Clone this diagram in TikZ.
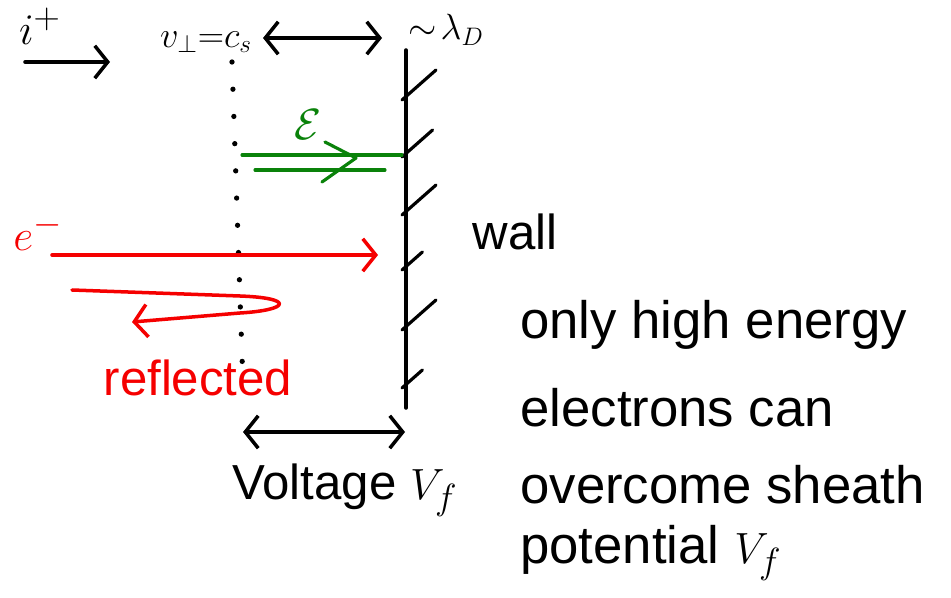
\documentclass[tikz,border=0pt]{standalone}
\usepackage{fontspec}
\setmainfont{Liberation Sans}
\usepackage{xcolor}
\usepackage{tikz}
\usetikzlibrary{arrows.meta, positioning}
\definecolor{inkblack}{RGB}{0, 0, 0}
\definecolor{inkred}{RGB}{245, 0, 0}
\definecolor{inkgreen}{RGB}{10, 130, 10}

\begin{document}
\begin{tikzpicture}[
    x=0.02cm, y=-0.02cm,
    ink/.style={line width=2pt, line cap=round, line join=round, color=inkblack},
    flow/.style={ink, -{Straight Barb[length=2.6mm, width=6.5mm]}},
    span/.style={ink, {Straight Barb[length=2.6mm, width=6.5mm]}-{Straight Barb[length=2.6mm, width=6.5mm]}},
    hatch/.style={line width=1.8pt, line cap=round},
    handtext/.style={font=\fontsize{28}{32}\selectfont, inner sep=0pt},
    smalltext/.style={font=\fontsize{22}{26}\selectfont, inner sep=0pt},
    notetext/.style={font=\fontsize{30}{34}\selectfont, inner sep=0pt, anchor=west}
]
    \useasboundingbox (0,0) rectangle (951,598);

    % wall with hatching
    \coordinate (walltop) at (406,50);
    \coordinate (wallbot) at (406,408);
    \draw [ink] (walltop) -- (wallbot);
    \foreach \y/\len in {100/1, 157/0.9, 215/1, 270/0.6, 330/1, 388/0.6}
        \draw [hatch] (402,\y) -- ++(34*\len,-30*\len);
    \node [handtext] (wall) at (515,232) {wall};

    % sheath edge
    \coordinate (edgetop) at (232,62);
    \coordinate (edgebot) at (243,385);
    \draw [line width=3pt, line cap=round, dash pattern=on 0pt off 15.5pt] (edgetop) -- (edgebot);

    % top labels
    \node [handtext] (ion)   at (40,26)  {$i^+$};
    \coordinate (ionstart) at (25,62);
    \coordinate (ionend)   at (110,62);
    \draw [flow] (ionstart) -- (ionend);
    \node [smalltext] (bohm)  at (206,42) {$v_\perp{=}c_s$};
    \node [smalltext] (debye) at (446,30) {$\sim\!\lambda_D$};
    \coordinate (sheathA) at (263,38);
    \coordinate (sheathB) at (382,38);
    \draw [span] (sheathA) -- (sheathB);

    % green double arrow
    \node [handtext, text=inkgreen] (field) at (308,125) {$\mathcal{E}$};
    \coordinate (fieldA) at (242,155);
    \coordinate (fieldB) at (255,170);
    \draw [hatch, color=inkgreen] (fieldA) -- (402,155);
    \draw [hatch, color=inkgreen] (fieldB) -- (385,170);
    \draw [hatch, color=inkgreen, line join=round] (325,142) -- (356,158) -- (322,182);

    % electrons
    \node [handtext, text=inkred] (elec) at (38,232) {$e^-$};
    \coordinate (elecend) at (378,255);
    \draw [flow, color=inkred] (52,255) -- (elecend);
    \coordinate (reflstart) at (72,290);
    \draw [flow, color=inkred]
        (reflstart) -- (240,296) .. controls (295,298) and (290,310) .. (240,313) -- (132,322);
    \node [handtext, text=inkred] (refl) at (198,378) {reflected};

    % floating potential
    \coordinate (volA) at (243,432);
    \coordinate (volB) at (405,432);
    \draw [span] (volA) -- (volB);
    \node [handtext] (volt) at (345,490) {Voltage $V_f$};

    % note
    \node [notetext] (line1) at (520,325) {only high energy};
    \node [notetext] (line2) at (520,408) {electrons can};
    \node [notetext] (line3) at (520,485) {overcome sheath};
    \node [notetext] (line4) at (520,553) {potential $V_f$};
\end{tikzpicture}
\end{document}
